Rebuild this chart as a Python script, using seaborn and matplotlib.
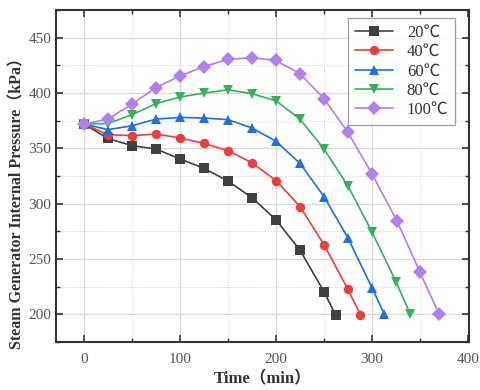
import numpy as np
import pandas as pd
import matplotlib
matplotlib.use("Agg")
import matplotlib.pyplot as plt
from matplotlib.ticker import MultipleLocator
import seaborn as sns

labels = ["20℃", "40℃", "60℃", "80℃", "100℃"]
t20 = [0, 25, 50, 75, 100, 125, 150, 175, 200, 225, 250, 262]
p20 = [372, 359, 352.5, 349.5, 340.5, 332, 320.5, 305.5, 285.5, 258, 220.5, 199.5]
t40 = [0, 25, 50, 75, 100, 125, 150, 175, 200, 225, 250, 275, 288]
p40 = [372, 362.5, 361.5, 363, 359.5, 354.5, 348, 337, 321, 297.5, 263, 222.5, 199.5]
t60 = [0, 25, 50, 75, 100, 125, 150, 175, 200, 225, 250, 275, 300, 313]
p60 = [372, 367, 370.5, 376.5, 378, 377.5, 376, 368.5, 356.5, 336.5, 306.5, 269, 224, 200]
t80 = [0, 25, 50, 75, 100, 125, 150, 175, 200, 225, 250, 275, 300, 325, 340]
p80 = [372, 372.5, 380.5, 390.5, 396.5, 400, 403, 399.5, 393, 376.5, 349.5, 316, 274.5, 229.5, 200]
t100 = [0, 25, 50, 75, 100, 125, 150, 175, 200, 225, 250, 275, 300, 326, 350, 370]
p100 = [372, 376.5, 390, 405, 415.5, 424, 430.5, 432, 429.5, 417.5, 395, 364.5, 327, 284.5, 238, 200]

colors = ["#404040", "#f03c3c", "#1f6fe6", "#35b060", "#b07ff0"]
markers = ["s", "o", "^", "v", "D"]

times = [t20, t40, t60, t80, t100]
press = [p20, p40, p60, p80, p100]
frames = []
for lab, t, p in zip(labels, times, press):
    frames.append(pd.DataFrame({"Time": t, "P": p, "T": lab}))
df = pd.concat(frames, ignore_index=True)

sns.set_theme(style="white")
plt.rcParams["font.family"] = ["Liberation Serif", "Noto Sans CJK SC", "DejaVu Sans"]

fig = plt.figure(figsize=(4.8, 3.9), dpi=100)
ax = fig.add_axes([0.117, 0.123, 0.86, 0.851])

sns.lineplot(data=df, x="Time", y="P", hue="T", style="T",
             palette=dict(zip(labels, colors)),
             markers=dict(zip(labels, markers)), dashes=False,
             markersize=6.8, markeredgewidth=0, linewidth=1.2,
             sort=False, estimator=None, ax=ax)

ax.set_xlim(-29, 401)
ax.set_ylim(175, 475)
ax.xaxis.set_major_locator(MultipleLocator(100))
ax.xaxis.set_minor_locator(MultipleLocator(50))
ax.yaxis.set_major_locator(MultipleLocator(50))
ax.yaxis.set_minor_locator(MultipleLocator(25))
ax.set_yticks([200, 250, 300, 350, 400, 450])

ax.grid(True, which="major", color="#dadada", linewidth=0.9, linestyle="-")
ax.grid(True, which="minor", color="#d2d2d2", linewidth=0.7, linestyle=":")
ax.set_axisbelow(True)

for s in ax.spines.values():
    s.set_color("#333333")
    s.set_linewidth(1.5)
ax.tick_params(which="both", direction="in", top=True, right=True,
               left=True, bottom=True, color="#333333", labelcolor="#555555",
               labelsize=11)
ax.tick_params(which="major", length=5, width=1.2)
ax.tick_params(which="minor", length=3, width=1.0)
ax.tick_params(axis="x", pad=8)

ax.set_xlabel("Time（min）", fontsize=12, fontweight="bold", color="#333333")
ax.set_ylabel("Steam Generator Internal Pressure（kPa）", fontsize=11.5,
              fontweight="bold", color="#333333")
ax.xaxis.set_label_coords(0.5, -0.088)
ax.yaxis.set_label_coords(-0.075, 0.43)

leg = ax.legend(loc="upper right", frameon=True, fancybox=False, fontsize=12,
                handlelength=2.3, borderaxespad=0, labelspacing=0.2,
                borderpad=0.4, bbox_to_anchor=(0.966, 0.976))
leg.get_frame().set_edgecolor("#888888")
leg.get_frame().set_linewidth(0.9)
leg.set_title(None)
for txt in leg.get_texts():
    txt.set_color("#333333")

fig.savefig("out.png", dpi=100)
